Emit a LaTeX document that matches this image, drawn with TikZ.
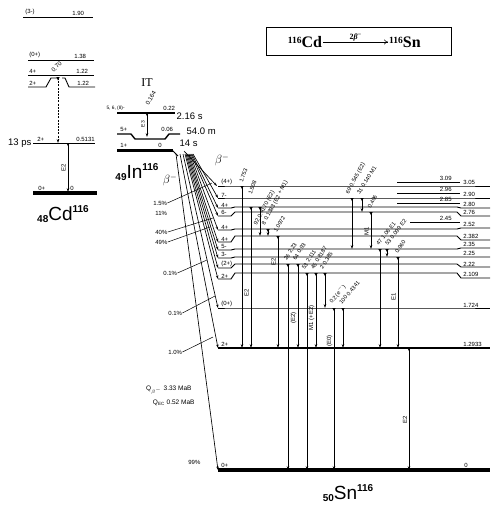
\documentclass[tikz,border=0pt]{standalone}
\usepackage{fontspec}
\setmainfont{Liberation Sans}
\newfontfamily\serifbox{Liberation Serif}
\usetikzlibrary{arrows.meta}
\newcommand\snlev[5]{%
  \draw[lev] (218,#1) -- (231,#1) -- (235,#2) -- (457,#2) -- (461,#3) -- (490,#3);
  \node[lab,anchor=south west] at (221,#1-0.6) {#4};
  \node[lab,anchor=south west] at (463,#3-0.6) {#5};
}
\newcommand\gam[3]{%
  \fill (#1-1.7,#2) -- (#1+1.7,#2) -- (#1,#2+3) -- cycle;
  \draw[tr] (#1,#2) -- (#1,#3);
}
\newcommand\shortlev[4]{%
  \draw[lev] (#1,#3) -- (#2,#3);
  \node[lab,anchor=south east] at (452,#3-0.6) {#4};
}
\begin{document}
\begin{tikzpicture}[x=1pt,y=-1pt,
  lev/.style={line width=0.9pt},
  glev/.style={line width=3.5pt},
  tr/.style={line width=0.6pt,-{Stealth[length=4pt,width=2.6pt]}},
  bt/.style={line width=0.65pt,-{Stealth[length=3.5pt,width=2.4pt]}},
  lab/.style={font=\fontsize{6}{7}\selectfont, inner sep=0.2pt},
  rlab/.style={font=\fontsize{5.6}{6}\selectfont, inner sep=0pt, anchor=south west},
  mid/.style={font=\fontsize{9.5}{10}\selectfont, inner sep=0.5pt},
  vlab/.style={font=\fontsize{6}{7}\selectfont, inner sep=0.2pt, rotate=90},
]
\useasboundingbox (0,0) rectangle (503,507);

% ---------------- box ----------------
\draw[line width=0.8pt] (266,27) rectangle (451,55);
\node[inner sep=1pt] (bcd) at (305,42) {\serifbox\bfseries\fontsize{9.5}{9.5}\selectfont\raisebox{0.9ex}{116}\fontsize{16}{16}\selectfont Cd};
\node[inner sep=1pt] (bsn) at (405,42) {\serifbox\bfseries\fontsize{9.5}{9.5}\selectfont\raisebox{0.9ex}{116}\fontsize{16}{16}\selectfont Sn};
\draw[line width=0.5pt,-{To[length=4pt,width=5pt]}] (bcd.east) -- (bsn.west)
  node[midway,above=0.5pt,inner sep=0pt] {\serifbox\bfseries\fontsize{8}{8}\selectfont 2\textit{β}\textsuperscript{−}};

% ---------------- Cd-116 ----------------
\draw[lev] (23,17) -- (93,17);
\node[lab,anchor=south west] at (25,15.5) {(3-)};
\node[lab,anchor=south west] at (72,15.5) {1.90};
\draw[lev] (28,60) -- (94,60);
\node[lab,anchor=south west] at (29,58.5) {(0+)};
\node[lab,anchor=south west] at (74,58.5) {1.38};
\draw[lev] (28,75) -- (94,75);
\node[lab,anchor=south west] at (29,73.5) {4+};
\node[lab,anchor=south west] at (76,73.5) {1.22};
\draw[lev] (28,87) -- (46,87) -- (51,78) -- (58,78);
\draw[lev] (62,78) -- (65,78) -- (69,87) -- (95,87);
\node[lab,anchor=south west] at (29,85.5) {2+};
\node[lab,anchor=south west] at (77,85.5) {1.22};
\node[lab,anchor=south west,rotate=45] at (54,73) {0.70};
\fill (56.3,77) -- (59.7,77) -- (58,80.5) -- cycle;
\draw[tr,dash pattern=on 2pt off 1.2pt] (58,78) -- (58,143);

\draw[lev] (33,143) -- (95,143);
\node[lab,anchor=south west] at (37,141.5) {2+};
\node[lab,anchor=south west] at (76,141.5) {0.5131};
\node[mid,anchor=east] (ps) at (32,143) {13 ps};
\gam{68}{143}{192}
\node[vlab] at (63.5,168) {E2};
\draw[glev] (33,193) -- (97,193);
\node[lab,anchor=south west] at (38,190.5) {0+};
\node[lab,anchor=south west] at (70,190.5) {0};
\node (cdlab) at (63,214) {\fontsize{10}{10}\selectfont\raisebox{-0.4ex}{\bfseries 48}\fontsize{19}{19}\selectfont Cd\fontsize{10}{10}\selectfont\raisebox{1.5ex}{\bfseries 116}};

% ---------------- In-116 ----------------
\node[font=\serifbox\fontsize{12}{12}\selectfont] (it) at (147,83) {IT};
\draw[line width=1.4pt] (117,113) -- (175,113);
\node[font=\fontsize{4.8}{5}\selectfont,inner sep=0.3pt,anchor=south west] at (106,110.5) {5, 6, (8)-};
\node[lab,anchor=south west] at (163,111) {0.22};
\node[lab,anchor=south west,rotate=60] at (149,106) {0.164};
\node[mid,anchor=west] (t216) at (176,116) {2.16 s};
\gam{147}{113}{137}
\node[font=\fontsize{5}{5}\selectfont,inner sep=0.3pt,rotate=90] at (143,124) {E3};
\draw[line width=1.4pt] (117,134) -- (131,134) -- (135,139) -- (165,139) -- (169,134) -- (180,134);
\node[lab,anchor=south west] at (120,132) {5+};
\node[lab,anchor=south west] at (161,132) {0.06};
\node[mid,anchor=west] (t54) at (186,131) {54.0 m};
\draw[line width=3pt] (117,150) -- (173,150);
\draw[line width=1pt] (172,150) -- (178,156);
\node[lab,anchor=south west] at (120,147.5) {1+};
\node[lab,anchor=south west] at (158,147.5) {0};
\node[mid,anchor=west] (t14) at (179,143) {14 s};
\node (inlab) at (137,172) {\fontsize{10}{10}\selectfont\raisebox{-0.4ex}{\bfseries 49}\fontsize{19}{19}\selectfont In\fontsize{10}{10}\selectfont\raisebox{1.5ex}{\bfseries 116}};
\node[font=\fontsize{12}{12}\selectfont] (b1) at (170,180) {$\beta^-$};
\node[font=\fontsize{12}{12}\selectfont] (b2) at (222,160) {$\beta^-$};

% ---------------- beta feeding fan ----------------
\draw[bt] (184,151) -- (217,186);
\foreach \sx/\ty in {193/198,192/208,191/216,190/230,189/242,188/250,187/258,186/268,185/279,183/308,180/348,176/470}
  \draw[bt] (\sx,154) -- (218,\ty);
% intensity tick lines and labels
\node[lab,anchor=west] (p1) at (153,203) {1.5\%};
\node[lab,anchor=west] (p2) at (155,213) {11\%};
\node[lab,anchor=west] (p3) at (155,232) {40\%};
\node[lab,anchor=west] (p4) at (155,242) {49\%};
\node[lab,anchor=west] (p5) at (163,273) {0.1\%};
\node[lab,anchor=west] (p6) at (168,313) {0.1\%};
\node[lab,anchor=west] (p7) at (168,352) {1.0\%};
\node[lab,anchor=west] (p8) at (188,462) {99\%};
\draw[line width=0.5pt] (p1.east) -- (212,183);
\draw[line width=0.5pt] (p3.east) -- (213,218);
\draw[line width=0.5pt] (p4.east) -- (210,227);
\draw[line width=0.5pt] (p5.east) -- (207,260);
\draw[line width=0.5pt] (p6.east) -- (215,296);
\draw[line width=0.5pt] (p7.east) -- (213,337);
\node[font=\fontsize{6.5}{7}\selectfont,anchor=east] (qb) at (195,390) {Q$_{\beta^-}$ 3.33 MaB};
\node[font=\fontsize{6.5}{7}\selectfont,anchor=east] (qe) at (198,403) {Q$_{\mathrm{EC}}$ 0.52 MaB};

% ---------------- Sn-116 levels ----------------
\snlev{186}{186}{186}{(4+)}{3.05}
\snlev{198}{198}{198}{7-}{2.90}
\snlev{208}{207}{208}{4+}{2.80}
\snlev{216}{212}{216}{6-}{2.76}
\snlev{230}{229}{228}{4+}{2.52}
\snlev{242}{236}{240}{4+}{2.382}
\snlev{250}{249}{248}{5-}{2.35}
\snlev{258}{257}{257}{3-}{2.25}
\snlev{268}{264}{267}{(2+)}{2.22}
\snlev{279}{273}{278}{2+}{2.109}
\snlev{308}{308}{308}{(0+)}{1.724}
\draw[line width=1.2pt] (218,348) -- (490,348);
\node[lab,anchor=south west] at (221,346.5) {2+};
\node[lab,anchor=south west] at (463,346.5) {1.2933};
\draw[line width=4pt] (218,470) -- (490,470);
\node[lab,anchor=south west] at (221,467.5) {0+};
\node[lab,anchor=south west] at (464,467.5) {0};
\shortlev{397}{460}{182}{3.09}
\shortlev{397}{460}{193}{2.96}
\shortlev{397}{460}{203}{2.85}
\shortlev{410}{460}{222}{2.45}

% ---------------- gamma transitions ----------------
\gam{242}{186}{348}
\gam{251}{207}{348}
\gam{260}{207}{236}
\gam{268}{229}{236}
\gam{278}{236}{348}
\gam{288}{264}{470}
\gam{298}{264}{348}
\gam{307}{273}{470}
\gam{316}{273}{348}
\gam{325}{273}{308}
\gam{334}{308}{470}
\gam{343}{308}{348}
\gam{352}{198}{249}
\gam{362}{198}{212}
\gam{371}{212}{249}
\gam{380}{249}{348}
\gam{387}{249}{257}
\gam{398}{257}{348}
\gam{409}{348}{470}

% transition labels
\node[rlab,rotate=70] at (243,183) {1.753};
\node[rlab,rotate=70] at (252,195) {1.508};
\node[rlab,rotate=62] at (258,226) {92\,\,0.4170\,\,(E2)};
\node[rlab,rotate=62] at (266,226) {8\,\,0.1383\,\,(E2 + M1)};
\node[rlab,rotate=60] at (277,233) {1.0972};
\node[rlab,rotate=58] at (287,261) {26\,\,2.23};
\node[rlab,rotate=58] at (296,261) {64\,\,0.93};
\node[rlab,rotate=58] at (305,270) {53\,\,2.111};
\node[rlab,rotate=58] at (314,270) {45\,\,0.8187};
\node[rlab,rotate=58] at (323,270) {2\,\,0.385};
\node[rlab,rotate=50] at (333,305) {0.2\,(e$^-$)};
\node[rlab,rotate=50] at (342,305) {100\,\,0.4341};
\node[rlab,rotate=62] at (350,195) {69\,\,0.545\,\,(E2)};
\node[rlab,rotate=58] at (360,195) {31\,\,0.140\,\,M1};
\node[rlab,rotate=62] at (371,209) {0.406};
\node[rlab,rotate=52] at (379,246) {47\,\,1.06\,\,E1};
\node[rlab,rotate=52] at (388,246) {53\,\,0.099\,\,E2};
\node[rlab,rotate=55] at (398,254) {0.960};
\node[vlab] at (246.5,293) {E2};
\node[vlab] at (273.5,262) {E2};
\node[vlab] at (293.5,318) {(E2)};
\node[vlab] at (311.5,318) {M1 (+E2)};
\node[vlab] at (329.5,341) {(E0)};
\node[vlab] at (366.5,231) {M1};
\node[vlab] at (393.5,297) {E1};
\node[vlab] at (405,420) {E2};

\node (snlab) at (348,493) {\fontsize{10}{10}\selectfont\raisebox{-0.4ex}{\bfseries 50}\fontsize{19}{19}\selectfont Sn\fontsize{10}{10}\selectfont\raisebox{1.5ex}{\bfseries 116}};
\end{tikzpicture}
\end{document}
